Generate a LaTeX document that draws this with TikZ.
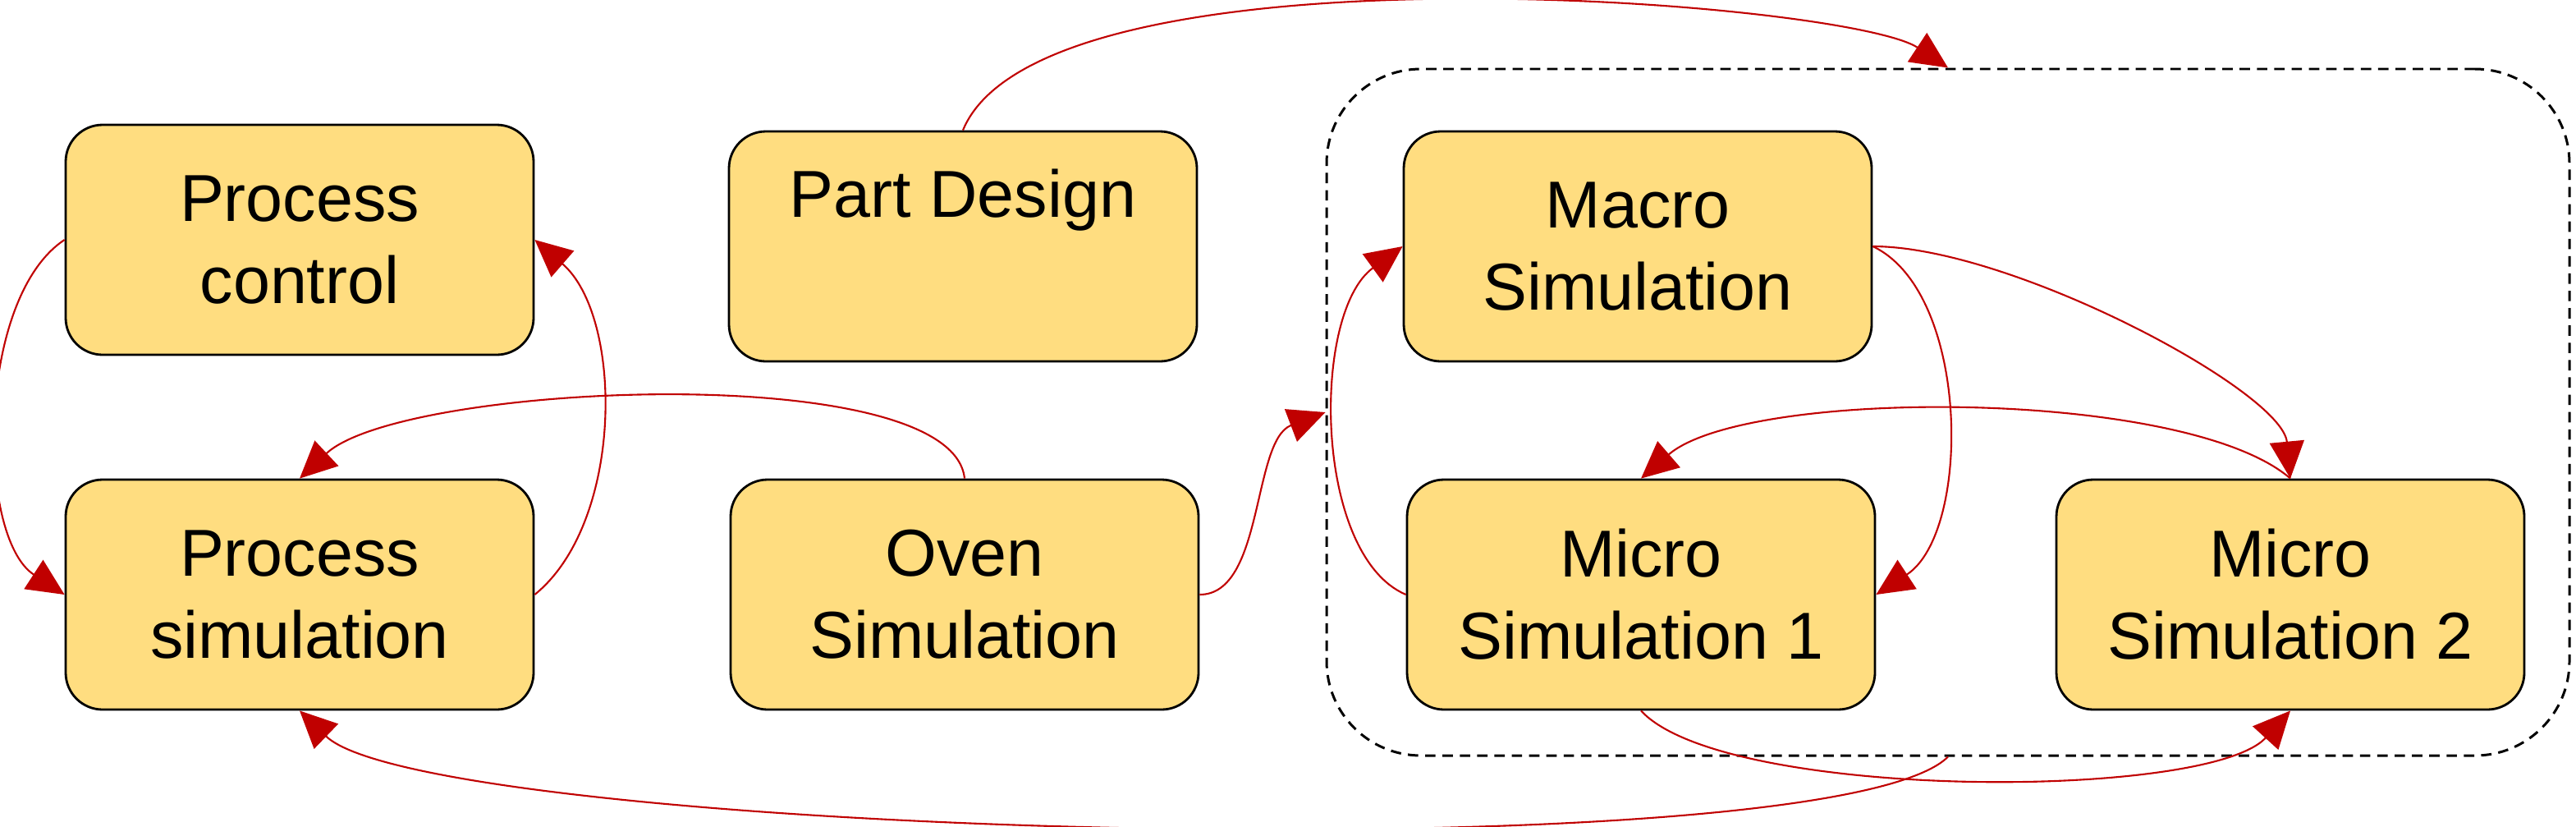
\documentclass[tikz,border=0pt]{standalone}
\usepackage{fontspec}
\setmainfont{Liberation Sans}
\usetikzlibrary{arrows.meta}
\definecolor{boxfill}{HTML}{FFDD80}
\definecolor{linkred}{HTML}{C00000}

\begin{document}
\begin{tikzpicture}[>={Triangle[length=0.45cm,width=0.42cm]},
  stage/.style={draw,line width=0.8pt,fill=boxfill,rounded corners=0.45cm,
    minimum width=5.7cm,minimum height=2.8cm,align=center,
    font=\fontsize{23}{28.5}\selectfont},
  simarea/.style={draw,line width=0.85pt,dash pattern=on 3.6pt off 2.4pt,
    rounded corners=1.15cm,minimum width=15.14cm,minimum height=8.36cm,inner sep=0pt},
  feed/.style={draw=linkred,line width=0.6pt,->}]
\useasboundingbox (0,0) rectangle (31.38,10.06);
\node[simarea] (sim) at (23.73,5.04) {};
\node[stage] (pc) at (3.65,7.14) {Process\\control};
\node[stage] (ps) at (3.65,2.82) {Process\\simulation};
\node[stage] (pd) at (11.73,7.06) {Part Design\\\strut};
\node[stage] (os) at (11.75,2.82) {Oven\\Simulation};
\node[stage] (mac) at (19.95,7.06) {Macro\\Simulation};
\node[stage] (mi1) at (19.99,2.82) {Micro\\Simulation 1};
\node[stage] (mi2) at (27.90,2.82) {Micro\\Simulation 2};
\draw[feed] (pc.west) .. controls (-0.29,6.43) and (-0.29,3.52) .. (ps.west);
\draw[feed] (ps.east) .. controls (7.6,3.7) and (7.6,6.2) .. (pc.east);
\draw[feed] (os.north) .. controls (11.6,5.7) and (4.9,5.4) .. (ps.north);
\draw[feed] (pd.north) .. controls (12.7,10.83) and (22.5,10.05) .. (sim.north);
\draw[feed] (os.east) .. controls (15.4,2.82) and (15.25,4.7) .. (sim.west);
\draw[feed] (mi1.west) .. controls (16.0,3.3) and (15.97,6.25) .. (mac.west);
\draw[feed] (mac.east) .. controls (24.0,6.5) and (24.02,3.58) .. (mi1.east);
\draw[feed] (mac.east) .. controls (24.5,7.06) and (27.8,5.3) .. (mi2.north);
\draw[feed] (mi2.north) .. controls (26.62,5.34) and (21.27,5.34) .. (mi1.north);
\draw[feed] (mi1.south) .. controls (21.0,0.31) and (26.9,0.31) .. (mi2.south);
\draw[feed] (sim.south) .. controls (22.28,-0.59) and (5.23,-0.12) .. (ps.south);
\end{tikzpicture}
\end{document}
